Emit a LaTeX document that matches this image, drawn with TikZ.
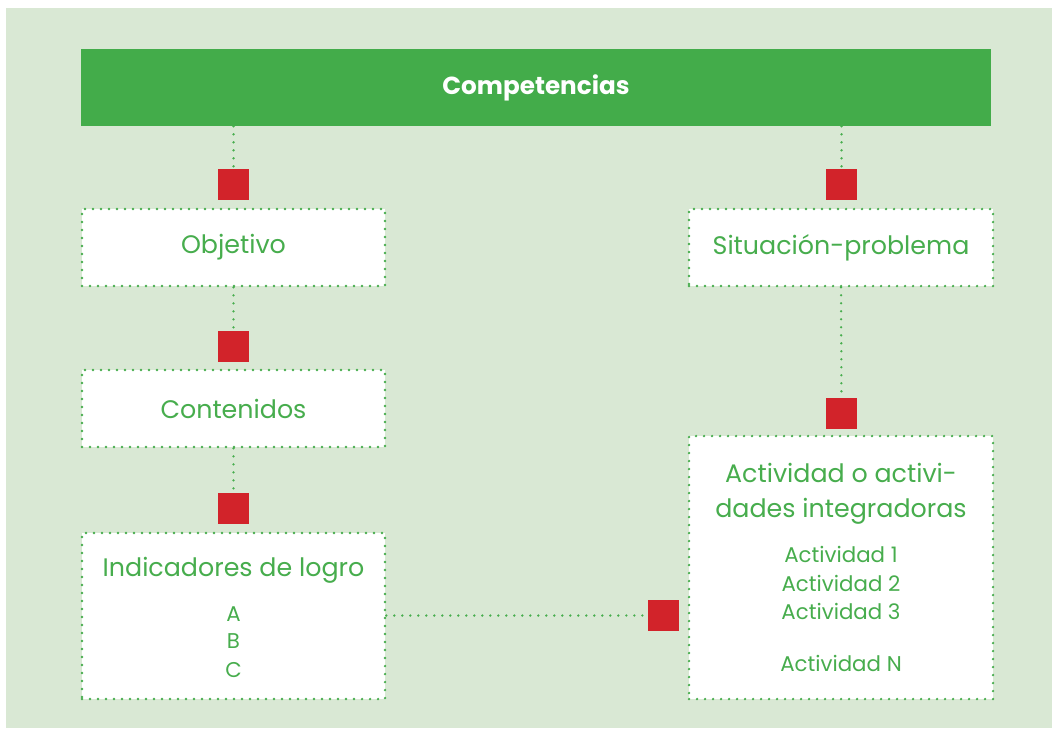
\documentclass[tikz,border=0pt]{standalone}
\usepackage{fontspec}
\setmainfont{Poppins}
\definecolor{bgc}{HTML}{D9E8D4}
\definecolor{barc}{HTML}{43AC4A}
\definecolor{sqc}{HTML}{D2232A}
\definecolor{txtc}{HTML}{47AD4D}
\tikzset{
  dotline/.style={draw=txtc, line width=1.9pt, line cap=round, dash pattern=on 0pt off 6pt},
  box/.style={dotline, fill=white, minimum height=57.75pt, minimum width=227.25pt, inner sep=0pt,
    text=txtc, font=\fontsize{19}{23}\selectfont},
  sq/.style={fill=sqc, minimum size=23.25pt, inner sep=0pt},
  head/.style={text=txtc, font=\fontsize{19}{23}\selectfont, inner sep=0pt, anchor=base},
  item/.style={text=txtc, font=\fontsize{16}{19}\selectfont, inner sep=0pt, anchor=base},
}
\begin{document}
\begin{tikzpicture}[x=0.75pt,y=-0.75pt]
\useasboundingbox (0,0) rectangle (1052,728);
\fill[white] (0,0) rectangle (1052,728);
\fill[bgc] (6,8) rectangle (1052,728);
% top bar
\node[fill=barc, minimum width=682.5pt, minimum height=57.75pt, inner sep=0pt,
  text=white, font=\fontsize{18.5}{22}\selectfont\bfseries] (bar) at (536,87.5) {Competencias};
% left column
\node[box] (obj) at (233.5,247.5) {Objetivo};
\node[box] (cont) at (233.5,408.5) {Contenidos};
\node[box, minimum height=124.5pt] (ind) at (233.5,616) {};
% right column
\node[box, minimum width=228pt] (sit) at (841,247.5) {Situación-problema};
\node[box, minimum width=228pt, minimum height=197.25pt] (act) at (841,567.5) {};
% texts
\node[head] (indT) at (233.5,576) {Indicadores de logro};
\node[item] (iA) at (233.5,621) {A};
\node[item] (iB) at (233.5,648) {B};
\node[item] (iC) at (233.5,677) {C};
\node[head] (actT1) at (841,482) {Actividad o activi-};
\node[head] (actT2) at (841,517) {dades integradoras};
\node[item] (a1) at (841,562) {Actividad 1};
\node[item] (a2) at (841,591) {Actividad 2};
\node[item] (a3) at (841,619) {Actividad 3};
\node[item] (aN) at (841,671) {Actividad N};
% squares
\node[sq] (s1) at (233.5,184.5) {};
\node[sq] (s2) at (233.5,346.5) {};
\node[sq] (s3) at (233.5,508.5) {};
\node[sq] (s4) at (841.5,184.5) {};
\node[sq] (s5) at (841.5,413) {};
\node[sq] (s6) at (663.5,615.5) {};
% connectors
\draw[dotline] (bar.south -| s1) -- (s1.north);
\draw[dotline] (obj.south) -- (s2.north);
\draw[dotline] (cont.south) -- (s3.north);
\draw[dotline] (bar.south -| s4) -- (s4.north);
\draw[dotline] (sit.south) -- (s5.north);
\draw[dotline] (ind.east |- s6) -- (s6.west);
\end{tikzpicture}
\end{document}
